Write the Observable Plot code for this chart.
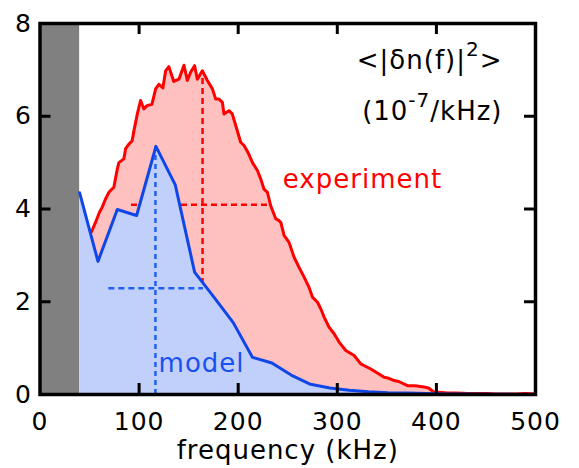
<!DOCTYPE html>
<html><head><meta charset="utf-8">
<script src="https://cdn.jsdelivr.net/npm/d3@7"></script>
<script src="https://cdn.jsdelivr.net/npm/@observablehq/plot@0.6"></script>
<style>html,body{margin:0;padding:0;background:#fff}</style>
</head><body><div id="chart"></div>
<script>
// experiment spectrum (frequency kHz, value 1e-7/kHz)
const expFreq = [52, 56, 60, 62.8, 66, 69.5, 74.5, 78, 79.6, 84.6, 86.4, 89.7, 93, 94.8, 98.2, 101.5, 104.8, 108, 113, 116.7, 120, 124, 126.8, 130, 135, 140.2, 145.3, 148.7, 152, 156, 158.8, 163.8, 168.9, 174, 177.3, 180.6, 184, 185.7, 190.7, 194, 197.5, 202.5, 205.9, 209.9, 214.4, 219.4, 222.7, 226, 229.5, 232.8, 237.9, 241.2, 243, 246.3, 251.3, 256.4, 261.4, 266.5, 271.5, 274.9, 280, 283.3, 286.7, 291.7, 296.8, 301.8, 308.6, 317, 323.7, 333.8, 340, 347.3, 352, 357.4, 362, 370.9, 378, 387.7, 392, 397.8, 402, 411.3, 420, 431.5, 440, 450, 460, 470, 480, 490, 500];
const expValue = [3.51, 3.71, 3.93, 4.04, 4.21, 4.36, 4.47, 4.86, 5.0, 5.08, 5.3, 5.4, 5.47, 5.69, 6.05, 6.34, 6.16, 6.23, 6.26, 6.59, 6.69, 6.61, 6.98, 7.07, 6.75, 6.8, 7.1, 6.77, 6.95, 7.09, 6.8, 6.98, 6.77, 6.59, 6.37, 6.37, 6.3, 6.05, 6.12, 6.05, 5.8, 5.44, 5.37, 5.22, 5.0, 4.83, 4.65, 4.43, 4.36, 4.07, 3.79, 3.75, 3.71, 3.43, 3.28, 2.96, 2.74, 2.53, 2.31, 2.1, 1.99, 1.85, 1.67, 1.45, 1.31, 1.13, 0.95, 0.84, 0.66, 0.55, 0.47, 0.37, 0.35, 0.3, 0.28, 0.19, 0.19, 0.16, 0.14, 0.05, 0.05, 0.03, 0.03, 0.02, 0.02, 0.02, 0.01, 0.01, 0.01, 0.02, 0.01];
// model spectrum
const modelFreq = [40, 58.5, 78, 97.5, 117, 136.5, 156, 175.5, 195, 214.5, 234, 253.5, 273, 292.5, 312, 331.5, 351, 370.5, 390, 409.5, 429, 448.5, 468, 487.5, 500];
const modelValue = [4.35, 2.87, 3.99, 3.86, 5.35, 4.52, 2.64, 2.1, 1.55, 0.80, 0.68, 0.42, 0.22, 0.14, 0.09, 0.06, 0.04, 0.03, 0.02, 0.01, 0.01, 0.005, 0.005, 0, 0];
// excluded low-frequency band
const bandFreq = [0, 40];
// peak / width markers
const expPeak = [164, 6.98];
const expWidth = [92.3, 232.6, 4.09];
const modelPeak = [116.5, 5.35];
const modelWidth = [69.5, 165, 2.29];
// ticks and texts
const xTicks = [0, 100, 200, 300, 400, 500];
const yTicks = [0, 2, 4, 6, 8];
const xInnerTicks = [100, 200, 300, 400];
const yInnerTicks = [2, 4, 6];
const xLabel = "frequency (kHz)";
const titleParts = [["<|δn(f)|", "2", ">"], ["(10", "-7", "/kHz)"]];
const seriesNames = ["experiment", "model"];

const exp = expFreq.map((f, i) => ({f, v: expValue[i]}));
const model = modelFreq.map((f, i) => ({f, v: modelValue[i]}));
const red = "#ff0000", blue = "#1046e6";
const titleText = titleParts.map(p => p.join(""));

const W = 579, H = 468, mL = 39.5, mR = 44, mT = 23, mB = 74;
const xDom = [0, 500], yDom = [0, 8], tickPx = 11;
// tick length expressed in data units of each scale
const tx = tickPx * (xDom[1] - xDom[0]) / (W - mL - mR);
const ty = tickPx * (yDom[1] - yDom[0]) / (H - mT - mB);
const tickStyle = {stroke: "black", strokeWidth: 3};

const chart = Plot.plot({
  width: W, height: H,
  marginLeft: mL, marginRight: mR, marginTop: mT, marginBottom: mB,
  x: {domain: xDom},
  y: {domain: yDom},
  style: {fontFamily: "DejaVu Sans", background: "white", letterSpacing: "1px", color: "black"},
  marks: [
    Plot.rect([{a: bandFreq[0], b: bandFreq[1]}], {x1: "a", x2: "b", fill: "#808080"}),
    Plot.areaY(exp, {x: "f", y: "v", fill: "#ffc0c0"}),
    Plot.ruleX([{x: expPeak[0], v: expPeak[1]}], {x: "x", y1: 0, y2: "v", stroke: red, strokeWidth: 2.5, strokeDasharray: "6,4"}),
    Plot.ruleY([{a: expWidth[0], b: expWidth[1], v: expWidth[2]}], {y: "v", x1: "a", x2: "b", stroke: red, strokeWidth: 2.5, strokeDasharray: "6,4"}),
    Plot.areaY(model, {x: "f", y: "v", fill: "#c0d0fa"}),
    Plot.ruleX([{x: modelPeak[0], v: modelPeak[1]}], {x: "x", y1: 0, y2: "v", stroke: "#2060f0", strokeWidth: 2.5, strokeDasharray: "5,4"}),
    Plot.ruleY([{a: modelWidth[0], b: modelWidth[1], v: modelWidth[2]}], {y: "v", x1: "a", x2: "b", stroke: "#2060f0", strokeWidth: 2.5, strokeDasharray: "6,4"}),
    Plot.lineY(exp, {x: "f", y: "v", stroke: red, strokeWidth: 3}),
    Plot.lineY(model, {x: "f", y: "v", stroke: blue, strokeWidth: 3}),
    Plot.text([titleText[0]], {text: d => d, x: 466.7, y: 7.02, textAnchor: "end", lineAnchor: "bottom", fontSize: 26, fill: "black", className: "t0"}),
    Plot.text([titleText[1]], {text: d => d, x: 466.7, y: 5.91, textAnchor: "end", lineAnchor: "bottom", fontSize: 26, fill: "black", className: "t1"}),
    Plot.text([seriesNames[0]], {text: d => d, x: 245, y: 4.46, textAnchor: "start", lineAnchor: "bottom", fontSize: 26, fill: red}),
    Plot.text([seriesNames[1]], {text: d => d, x: 119.7, y: 0.48, textAnchor: "start", lineAnchor: "bottom", fontSize: 26, fill: "#1a50f0"}),
    // inward ticks on all four sides
    Plot.ruleX(xInnerTicks, {x: d => d, y1: yDom[0], y2: yDom[0] + ty, ...tickStyle}),
    Plot.ruleX(xInnerTicks, {x: d => d, y1: yDom[1] - ty, y2: yDom[1], ...tickStyle}),
    Plot.ruleY(yInnerTicks, {y: d => d, x1: xDom[0], x2: xDom[0] + tx, ...tickStyle}),
    Plot.ruleY(yInnerTicks, {y: d => d, x1: xDom[1] - tx, x2: xDom[1], ...tickStyle}),
    Plot.axisX(xTicks, {anchor: "bottom", tickSize: 0, tickPadding: 18, fontSize: 25, label: null, fill: "black"}),
    Plot.axisY(yTicks, {anchor: "left", tickSize: 0, tickPadding: 8, fontSize: 25, label: null, fill: "black"}),
    Plot.text([xLabel], {text: d => d, frameAnchor: "bottom", dy: 64, lineAnchor: "bottom", fontSize: 26, fill: "black"}),
    Plot.frame({stroke: "black", strokeWidth: 3.5})
  ]
});
// rebuild title texts with raised superscripts
[["t0", 0, 20, 13], ["t1", 1, 20, 13]].forEach(([cls, i, fs, rise]) => {
  const t = chart.querySelector(`.${cls} text`);
  if (!t) return;
  const p = titleParts[i];
  t.textContent = "";
  const ns = "http://www.w3.org/2000/svg";
  const a = document.createElementNS(ns, "tspan"); a.textContent = p[0]; t.appendChild(a);
  const b = document.createElementNS(ns, "tspan"); b.textContent = p[1];
  b.setAttribute("dy", -rise); b.setAttribute("font-size", fs); t.appendChild(b);
  const c = document.createElementNS(ns, "tspan"); c.textContent = p[2];
  c.setAttribute("dy", rise); t.appendChild(c);
});
document.getElementById("chart").appendChild(chart);
</script>
</body></html>
